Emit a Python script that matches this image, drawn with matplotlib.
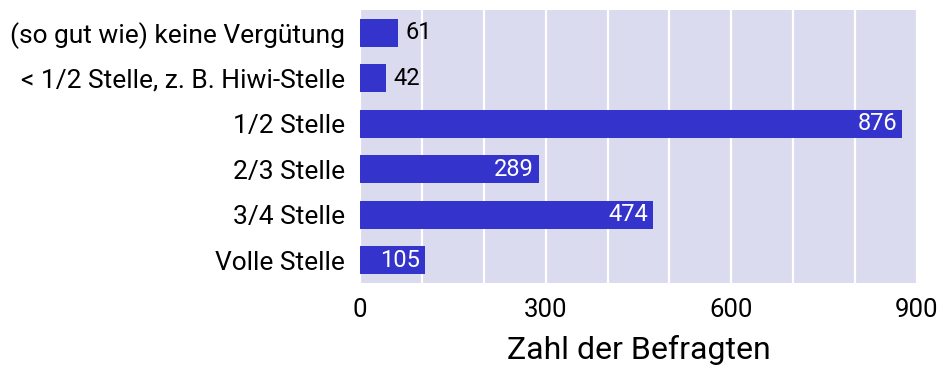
import matplotlib
matplotlib.use("Agg")
import matplotlib.pyplot as plt
from matplotlib.ticker import MultipleLocator

categories = ["(so gut wie) keine Vergütung", "< 1/2 Stelle, z. B. Hiwi-Stelle",
              "1/2 Stelle", "2/3 Stelle", "3/4 Stelle", "Volle Stelle"]
counts = [61, 42, 876, 289, 474, 105]
xticks = [0, 300, 600, 900]

plt.rcParams['font.family'] = ['Roboto', 'DejaVu Sans']

fig = plt.figure(figsize=(9.42, 3.65), dpi=100)
ax = fig.add_axes([360/942, 1-283/365, 557/942, 273/365])
ax.set_facecolor('#dbdbef')

ypos = list(range(len(categories)))
ax.barh(ypos, counts, height=0.62, color='#3434cc', zorder=3)

# kleine Balken: Zahl rechts daneben, sonst weiß im Balken
for y, v in zip(ypos, counts):
    if v < 100:
        ax.text(v + 12, y, str(v), va='center', ha='left', fontsize=17, color='black', zorder=4)
    else:
        ax.text(v - 8, y, str(v), va='center', ha='right', fontsize=17, color='white', zorder=4)

ax.set_xlim(0, 900)
ax.set_ylim(len(categories) - 0.5, -0.5)
ax.set_yticks(ypos)
ax.set_yticklabels(categories, fontsize=19)
ax.set_xticks(xticks)
ax.set_xticklabels([str(t) for t in xticks], fontsize=18.5)
ax.xaxis.set_minor_locator(MultipleLocator(100))
ax.grid(True, which='both', axis='x', color='white', linewidth=1.6, zorder=1)
ax.tick_params(axis='both', which='both', length=0)
ax.tick_params(axis='y', pad=11)
ax.tick_params(axis='x', pad=10.5)
for s in ax.spines.values():
    s.set_visible(False)

ax.set_xlabel("Zahl der Befragten", fontsize=23, labelpad=10)

fig.savefig("out.png", dpi=100)
